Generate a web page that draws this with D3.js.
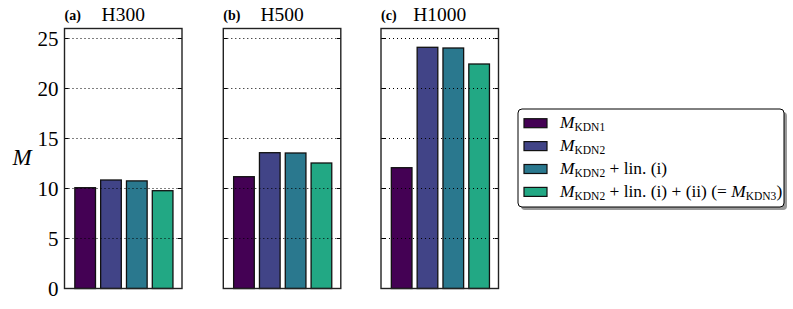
<!DOCTYPE html>
<html lang="en">
<head>
<meta charset="UTF-8">
<title>M per halo</title>
<script src="https://d3js.org/d3.v7.min.js"></script>
<style>
  html, body { margin: 0; padding: 0; background: #fff; }
  .grid { stroke: #000; stroke-width: 1; stroke-dasharray: 1 3; }
</style>
</head>
<body>
<svg id="chart" width="793" height="309" font-family="'Liberation Serif', 'Times New Roman', Times, 'DejaVu Serif', serif"></svg>
<script>
// data
const panels  = ["H300", "H500", "H1000"];
const letters = ["(a)", "(b)", "(c)"];
const seriesNames = ["KDN1", "KDN2", "KDN2 + lin. (i)", "KDN2 + lin. (i) + (ii)"];
const values = [
  [10.08, 10.85, 10.76, 9.78],   // H300
  [11.18, 13.58, 13.55, 12.55],  // H500
  [12.08, 24.12, 24.05, 22.45]   // H1000
];
const yTicks = [0, 5, 10, 15, 20, 25];
const colors = ["#440154", "#414487", "#2a788e", "#22a884"];

const svg = d3.select("#chart");
const panelLeft = [64.5, 223.3, 381];
const panelW = 117.5;
const plotTop = 28.5, plotBottom = 288.5;

const y = d3.scaleLinear().domain([0, 26]).range([plotBottom, plotTop]);
const x = d3.scaleLinear().domain([-0.8, 3.75]).range([0, panelW]);

panels.forEach((name, p) => {
  const g = svg.append("g").attr("transform", `translate(${panelLeft[p]},0)`);

  g.selectAll("rect.bar")
    .data(values[p])
    .join("rect")
      .attr("class", "bar")
      .attr("x", (d, i) => x(i - 0.4))
      .attr("width", x(0.4) - x(-0.4))
      .attr("y", d => y(d))
      .attr("height", d => y(0) - y(d))
      .attr("fill", (d, i) => colors[i])
      .attr("stroke", "#111")
      .attr("stroke-width", 1.3);

  // dotted grid drawn over the bars
  g.selectAll("line.grid")
    .data(yTicks.slice(1))
    .join("line")
      .attr("class", "grid")
      .attr("x1", 0).attr("x2", panelW)
      .attr("y1", d => y(d)).attr("y2", d => y(d));

  // inward ticks both sides
  g.selectAll("line.tl")
    .data(yTicks)
    .join("line")
      .attr("class", "tl")
      .attr("x1", 0).attr("x2", 4)
      .attr("y1", d => y(d)).attr("y2", d => y(d))
      .attr("stroke", "#000");
  g.selectAll("line.tr")
    .data(yTicks)
    .join("line")
      .attr("class", "tr")
      .attr("x1", panelW - 4).attr("x2", panelW)
      .attr("y1", d => y(d)).attr("y2", d => y(d))
      .attr("stroke", "#000");

  g.append("rect")
    .attr("x", 0).attr("y", plotTop)
    .attr("width", panelW).attr("height", plotBottom - plotTop)
    .attr("fill", "none")
    .attr("stroke", "#222")
    .attr("stroke-width", 1.4);

  g.append("text")
    .attr("x", 0).attr("y", 20)
    .attr("font-size", 14).attr("font-weight", "bold")
    .text(letters[p]);
  g.append("text")
    .attr("x", panelW / 2).attr("y", 21)
    .attr("text-anchor", "middle")
    .attr("font-size", 19.5)
    .text(name);

  if (p === 0) {
    g.selectAll("text.tick")
      .data(yTicks)
      .join("text")
        .attr("class", "tick")
        .attr("x", -6)
        .attr("y", d => y(d) + 7)
        .attr("text-anchor", "end")
        .attr("font-size", 21)
        .text(d => d);
  }
});

svg.append("text")
  .attr("x", 22).attr("y", 165)
  .attr("text-anchor", "middle")
  .attr("font-size", 23)
  .attr("font-style", "italic")
  .text("M");

// legend
const lg = svg.append("g").attr("transform", "translate(518,109)");
lg.append("rect")
  .attr("x", 3).attr("y", 3).attr("width", 266).attr("height", 98)
  .attr("rx", 4).attr("fill", "#999");
lg.append("rect")
  .attr("width", 266).attr("height", 98)
  .attr("rx", 4).attr("fill", "#fff")
  .attr("stroke", "#000").attr("stroke-width", 1);

const rows = lg.selectAll("g.row")
  .data(seriesNames)
  .join("g")
    .attr("class", "row")
    .attr("transform", (d, i) => `translate(0,${14.2 + i * 22.9})`);

rows.append("rect")
  .attr("x", 6).attr("y", -4.5)
  .attr("width", 23).attr("height", 9)
  .attr("fill", (d, i) => colors[i])
  .attr("stroke", "#111").attr("stroke-width", 1.2);

rows.each(function(d, i) {
  const t = d3.select(this).append("text")
    .attr("x", 42).attr("y", 5)
    .attr("font-size", 17.4);
  const parts = d.split(" ");
  t.append("tspan").attr("font-style", "italic").text("M");
  t.append("tspan").attr("font-size", 11.5).attr("dy", 3).text(parts[0]);
  if (parts.length > 1) {
    t.append("tspan").attr("dy", -3).text(" " + parts.slice(1).join(" "));
  }
  if (i === 3) {
    t.append("tspan").text(" (= ");
    t.append("tspan").attr("font-style", "italic").text("M");
    t.append("tspan").attr("font-size", 11.5).attr("dy", 3).text("KDN3");
    t.append("tspan").attr("dy", -3).text(")");
  }
});
</script>
</body>
</html>
